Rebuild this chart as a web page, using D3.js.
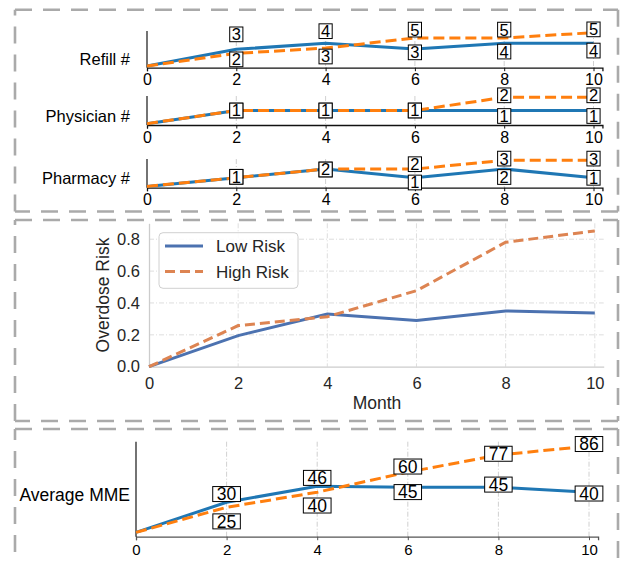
<!DOCTYPE html>
<html>
<head>
<meta charset="utf-8">
<script src="https://cdn.jsdelivr.net/npm/d3@7"></script>
<style>
  body { margin: 0; background: #fff; }
  text { font-family: "Liberation Sans", Arial, sans-serif; }
</style>
</head>
<body>
<svg id="chart" width="621" height="561"></svg>
<script>
// ---- data ----
var months = [0, 2, 4, 6, 8, 10];

var refillLow = [0, 2.7, 3.7, 2.75, 3.7, 3.7];
var refillHigh = [0, 2.05, 2.9, 4.55, 4.55, 5.4];
var refillLowText = [null, 3, 4, 3, 4, 4];
var refillHighText = [null, 2, 3, 5, 5, 5];

var physicianLow = [0, 1, 1, 1, 1, 1];
var physicianHigh = [0, 1, 1, 1, 2, 2];

var pharmacyLow = [0, 1, 2, 1, 2, 1];
var pharmacyHigh = [0, 1, 2, 2, 3, 3];

var riskLow = [0, 0.195, 0.33, 0.29, 0.35, 0.337];
var riskHigh = [0, 0.258, 0.314, 0.477, 0.781, 0.852];
var riskTicks = [0, 0.2, 0.4, 0.6, 0.8];
var seriesNames = ["Low Risk", "High Risk"];

var mmeLow = [0, 30, 46, 45, 45, 40];
var mmeHigh = [0, 25, 40, 60, 77, 86];

var svg = d3.select("#chart");
var blue = "#1f77b4", orange = "#ff7f0e";

// dashed frames round the three parts
function frame(x1, y1, x2, y2) {
  var edges = [[x1, y1, x2, y1], [x2, y1, x2, y2], [x2, y2, x1, y2], [x1, y2, x1, y1]];
  svg.append("g").selectAll("line").data(edges).enter().append("line")
    .attr("x1", function(d) { return d[0]; }).attr("y1", function(d) { return d[1]; })
    .attr("x2", function(d) { return d[2]; }).attr("y2", function(d) { return d[3]; })
    .attr("stroke", "#aaaaaa").attr("stroke-width", 2.6)
    .attr("stroke-dasharray", "17,11");
}
frame(15, 9.7, 618, 211.5);
frame(15, 220, 618, 421);
frame(15, 429, 618, 580);

// small panels (top group + bottom MME)
function smallPanel(p) {
  var g = svg.append("g");
  var x = d3.scaleLinear().domain([0, 10.2])
    .range([p.x0, p.x0 + (p.x10 - p.x0) * 1.02]);
  var pad = p.ymax * 0.05;
  var y = d3.scaleLinear().domain([-pad, p.ymax + pad]).range([p.bottom, p.top]);

  g.selectAll(".grid").data(months.slice(1)).enter().append("line")
    .attr("x1", function(d) { return x(d); }).attr("x2", function(d) { return x(d); })
    .attr("y1", p.top).attr("y2", p.bottom)
    .attr("stroke", "#c4c4c4").attr("stroke-width", 0.8)
    .attr("stroke-dasharray", "5,2,1,2");

  var ax = g.append("g").attr("transform", "translate(0," + p.bottom + ")")
    .call(d3.axisBottom(x).tickValues(months).tickSizeOuter(0)
      .tickSize(3.5).tickPadding(p.tickPad));
  ax.select(".domain").attr("stroke", p.axisColor).attr("stroke-width", 1.3);
  ax.selectAll(".tick line").attr("stroke", p.axisColor);
  ax.selectAll("text").attr("font-size", p.tickFont).attr("fill", "#000")
    .style("font-family", "'Liberation Sans', Arial, sans-serif");

  g.append("line").attr("x1", x(0)).attr("x2", x(0))
    .attr("y1", p.top).attr("y2", p.bottom)
    .attr("stroke", "#000").attr("stroke-width", 1.1);

  g.append("text").attr("x", 130).attr("y", p.labelY)
    .attr("text-anchor", "end").attr("font-size", p.labelFont)
    .text(p.name);

  var line = d3.line()
    .x(function(d, i) { return x(months[i]); })
    .y(function(d) { return y(d); });

  g.append("path").datum(p.low).attr("d", line)
    .attr("fill", "none").attr("stroke", blue).attr("stroke-width", 3);
  g.append("path").datum(p.high).attr("d", line)
    .attr("fill", "none").attr("stroke", orange).attr("stroke-width", 3)
    .attr("stroke-dasharray", "11,5");

  // boxed value tags, one per month after 0
  function tags(vals, texts, dys) {
    months.forEach(function(m, i) {
      if (i === 0 || texts[i] == null) return;
      var t = g.append("g")
        .attr("transform", "translate(" + x(m) + "," + (y(vals[i]) + dys[i]) + ")");
      var r = t.append("rect");
      var tx = t.append("text").attr("text-anchor", "middle")
        .attr("y", p.tagFont * 0.36).attr("font-size", p.tagFont).text(texts[i]);
      var w = tx.node().getBBox().width + 2 * p.tagPad;
      r.attr("x", -w / 2).attr("y", -p.tagH / 2).attr("width", w).attr("height", p.tagH)
        .attr("fill", "#fff").attr("stroke", "#000").attr("stroke-width", 1);
    });
  }
  tags(p.high, p.highText, p.highDy);
  tags(p.low, p.lowText, p.lowDy);
}

var topStyle = { x0: 147, x10: 593.5, axisColor: "#111", tickFont: 16, labelFont: 16.5,
                 tagFont: 16.5, tagPad: 2, tagH: 14.7 };

smallPanel(Object.assign({}, topStyle, {
  name: "Refill #", top: 31, bottom: 67.7, ymax: 5.4, labelY: 64.5, tickPad: 2.5,
  low: refillLow, high: refillHigh, lowText: refillLowText, highText: refillHighText,
  lowDy: [0, -15, -12, 3.3, 8.4, 7.4], highDy: [0, 6, 8.4, -8.3, -8.3, -3.3]
}));
smallPanel(Object.assign({}, topStyle, {
  name: "Physician #", top: 96, bottom: 125, ymax: 2, labelY: 121.5, tickPad: 3,
  low: physicianLow, high: physicianHigh, lowText: physicianLow, highText: physicianHigh,
  lowDy: [0, 0, 0, 0, 5.5, 5.5], highDy: [0, 0, 0, 0, -2, -2]
}));
smallPanel(Object.assign({}, topStyle, {
  name: "Pharmacy #", top: 159, bottom: 187.7, ymax: 3, labelY: 183.5, tickPad: 2.5,
  low: pharmacyLow, high: pharmacyHigh, lowText: pharmacyLow, highText: pharmacyHigh,
  lowDy: [0, -0.9, 0.5, 4.8, 8, 0.1], highDy: [0, -0.9, 0.5, -4.8, -1.7, -1.7]
}));
smallPanel({
  name: "Average MME", x0: 136, x10: 589, top: 441.7, bottom: 536.7, ymax: 86,
  labelY: 501, labelFont: 17.5, tickFont: 15, tickPad: 4, axisColor: "#555",
  tagFont: 17.5, tagPad: 4, tagH: 15,
  low: mmeLow, high: mmeHigh, lowText: mmeLow, highText: mmeHigh,
  lowDy: [0, -8.2, -8.3, 4.9, -2.6, 1.3], highDy: [0, 14.1, 13.3, -5.6, -1.3, -2]
});

// ---- middle: overdose risk ----
var mid = svg.append("g");
var sBlue = "#4c72b0", sOrange = "#dd8452", ink = "#262626";
var mx = d3.scaleLinear().domain([0, 10.2]).range([149, 149 + 44.58 * 10.2]);
var my = d3.scaleLinear().domain([0, 0.9]).range([366.7, 223.3]);

mid.selectAll(".vg").data(months.slice(1)).enter().append("line")
  .attr("x1", function(d) { return mx(d); }).attr("x2", function(d) { return mx(d); })
  .attr("y1", my(0.9)).attr("y2", my(0))
  .attr("stroke", "#d6d6d6").attr("stroke-width", 0.8).attr("stroke-dasharray", "5,2,1,2");
mid.selectAll(".hg").data(riskTicks.slice(1)).enter().append("line")
  .attr("x1", mx(0)).attr("x2", mx(10.2))
  .attr("y1", function(d) { return my(d); }).attr("y2", function(d) { return my(d); })
  .attr("stroke", "#d6d6d6").attr("stroke-width", 0.8).attr("stroke-dasharray", "5,2,1,2");

var mxAx = mid.append("g").attr("transform", "translate(0," + my(0) + ")")
  .call(d3.axisBottom(mx).tickValues(months).tickSize(0).tickSizeOuter(0).tickPadding(10.5));
var myAx = mid.append("g").attr("transform", "translate(" + mx(0) + ",0)")
  .call(d3.axisLeft(my).tickValues(riskTicks).tickFormat(d3.format(".1f"))
    .tickSize(0).tickSizeOuter(0).tickPadding(9));
[mxAx, myAx].forEach(function(a) {
  a.select(".domain").attr("stroke", "#cccccc").attr("stroke-width", 1.3);
  a.selectAll("text").attr("font-size", 16.5).attr("fill", ink)
    .style("font-family", "'Liberation Sans', Arial, sans-serif");
});

mid.append("text").attr("transform", "translate(109,295) rotate(-90)")
  .attr("text-anchor", "middle").attr("font-size", 17.5).attr("fill", ink)
  .text("Overdose Risk");
mid.append("text").attr("x", 377).attr("y", 408.5)
  .attr("text-anchor", "middle").attr("font-size", 17.5).attr("fill", ink)
  .text("Month");

var mline = d3.line()
  .x(function(d, i) { return mx(months[i]); })
  .y(function(d) { return my(d); });
mid.append("path").datum(riskLow).attr("d", mline)
  .attr("fill", "none").attr("stroke", sBlue).attr("stroke-width", 3);
mid.append("path").datum(riskHigh).attr("d", mline)
  .attr("fill", "none").attr("stroke", sOrange).attr("stroke-width", 3)
  .attr("stroke-dasharray", "10,5");

var leg = mid.append("g");
leg.append("rect").attr("x", 159).attr("y", 232.7).attr("width", 139).attr("height", 55.6)
  .attr("rx", 4).attr("fill", "#fff").attr("fill-opacity", 0.85)
  .attr("stroke", "#d0d0d0").attr("stroke-width", 1);
seriesNames.forEach(function(name, i) {
  var yy = 246 + i * 25.5;
  leg.append("line").attr("x1", 165).attr("x2", 203).attr("y1", yy).attr("y2", yy)
    .attr("stroke", i ? sOrange : sBlue).attr("stroke-width", 3)
    .attr("stroke-dasharray", i ? "10,5" : null);
  leg.append("text").attr("x", 216).attr("y", yy + 6).attr("font-size", 17)
    .attr("fill", ink).text(name);
});
</script>
</body>
</html>
